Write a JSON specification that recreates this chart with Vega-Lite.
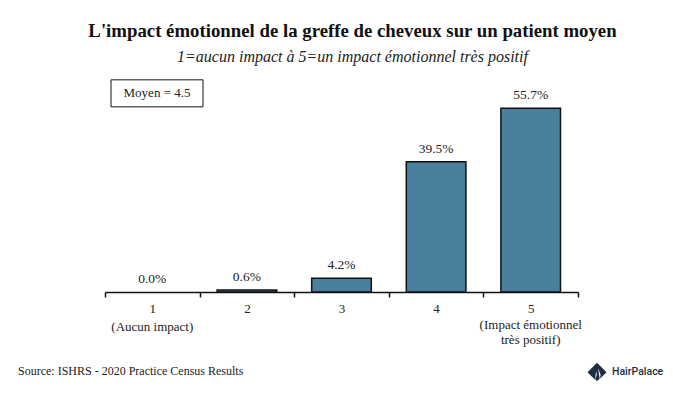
{"$schema":"https://vega.github.io/schema/vega-lite/v6.json","width":473,"height":232,"autosize":"none","padding":{"left":105,"top":60,"right":95,"bottom":103},"background":"white","view":{"stroke":null},"title":{"text":"L'impact émotionnel de la greffe de cheveux sur un patient moyen","subtitle":"1=aucun impact à 5=un impact émotionnel très positif","anchor":"middle","frame":"group","dx":11,"font":"Liberation Serif","fontSize":18.8,"fontWeight":"bold","color":"#111","subtitleFont":"Liberation Serif","subtitleFontSize":16,"subtitleFontStyle":"italic","subtitleColor":"#222","subtitlePadding":8,"offset":-5},"datasets":{"bars":[{"note":"1","pct":0.0,"label":"0.0%"},{"note":"2","pct":0.6,"label":"0.6%"},{"note":"3","pct":4.2,"label":"4.2%"},{"note":"4","pct":39.5,"label":"39.5%"},{"note":"5","pct":55.7,"label":"55.7%"}],"sub":[{"note":"1","pct":-10.6,"label":"(Aucun impact)"},{"note":"5","pct":-10.1,"label":"(Impact émotionnel"},{"note":"5","pct":-14.4,"label":"très positif)"}],"box":[{"note":"1","pct":60.2,"label":"Moyen = 4.5"}],"src":[{"note":"1","pct":-24,"label":"Source: ISHRS - 2020 Practice Census Results"}],"logo":[{"note":"5","pct":-24.2,"label":"HairPalace"}]},"encoding":{"x":{"field":"note","type":"nominal","sort":null,"scale":{"domain":["1","2","3","4","5"],"paddingInner":0,"paddingOuter":0},"axis":{"title":null,"labelAngle":0,"tickBand":"extent","grid":false,"domainColor":"#111","domainWidth":1.5,"tickColor":"#111","tickWidth":1.5,"tickSize":5,"labelFont":"Liberation Serif","labelFontSize":13,"labelColor":"#222","labelPadding":5}},"y":{"field":"pct","type":"quantitative","scale":{"domain":[0,70.3],"nice":false,"zero":false},"axis":null}},"layer":[{"data":{"name":"bars"},"mark":{"type":"bar","fill":"#4a7f9e","stroke":"#111","strokeWidth":1.5,"width":{"band":0.63}},"encoding":{"y":{"field":"pct","type":"quantitative"},"strokeOpacity":{"condition":{"test":"datum.pct > 0","value":1},"value":0}}},{"data":{"name":"bars"},"mark":{"type":"text","baseline":"bottom","dy":-6,"font":"Liberation Serif","fontSize":13.5,"color":"#222"},"encoding":{"text":{"field":"label"}}},{"data":{"name":"sub"},"mark":{"type":"text","font":"Liberation Serif","fontSize":13,"color":"#222"},"encoding":{"text":{"field":"label"}}},{"data":{"name":"box"},"mark":{"type":"rect","width":92,"height":27,"fill":"white","stroke":"#111","strokeWidth":1,"xOffset":4.7}},{"data":{"name":"box"},"mark":{"type":"text","dx":4.7,"font":"Liberation Serif","fontSize":13,"color":"#222"},"encoding":{"text":{"field":"label"}}},{"data":{"name":"src"},"mark":{"type":"text","align":"left","dx":-134.3,"font":"Liberation Serif","fontSize":12,"color":"#222"},"encoding":{"text":{"field":"label"}}},{"data":{"name":"logo"},"mark":{"type":"point","filled":true,"shape":"M0,-0.95L1,0.05L0.45,0.6L0,0.95L-0.45,0.6L-1,0.05Z","size":360,"color":"#1d2d44","opacity":1,"xOffset":66.3}},{"data":{"name":"logo"},"mark":{"type":"point","filled":true,"shape":"M-0.1,-0.1L-0.2,0.9L-0.02,0.3ZM0.1,-0.4L0.3,0.8L0.38,0.3Z","size":360,"color":"white","opacity":1,"xOffset":66.3}},{"data":{"name":"logo"},"mark":{"type":"text","align":"left","dx":81.3,"font":"Roboto","fontSize":10.5,"fontWeight":500,"color":"#1d2d44"},"encoding":{"text":{"field":"label"}}}]}
